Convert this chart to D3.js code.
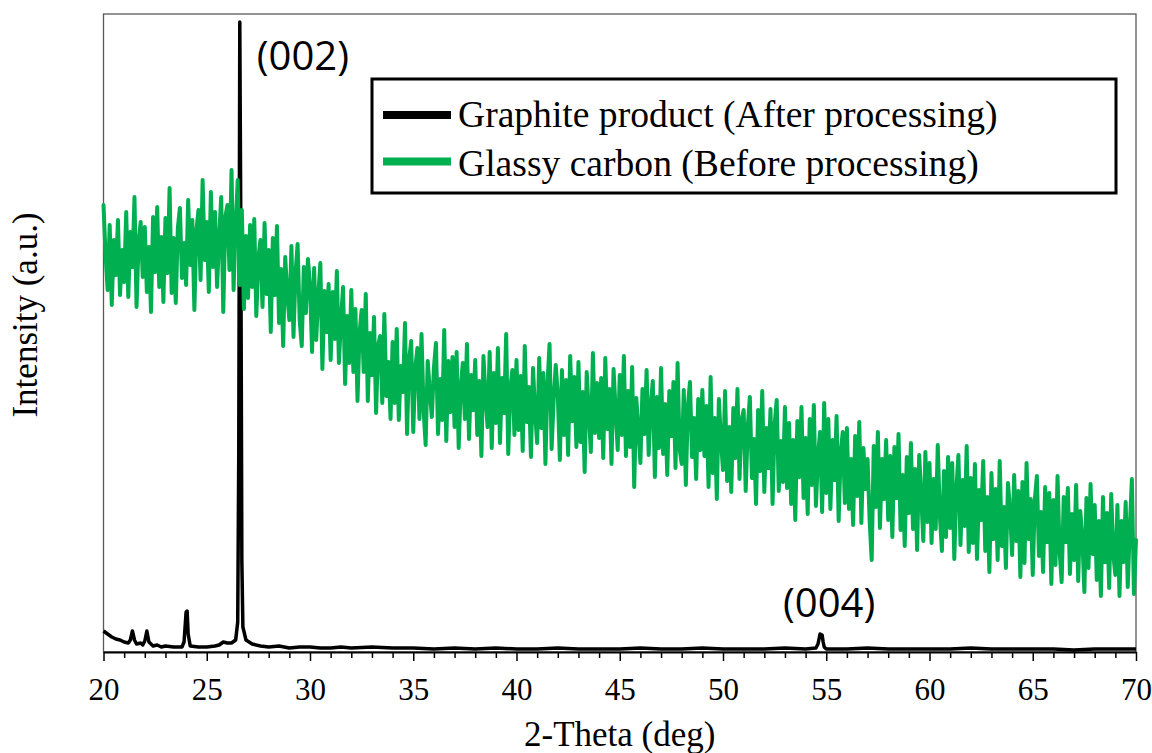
<!DOCTYPE html>
<html>
<head>
<meta charset="utf-8">
<script src="https://cdn.jsdelivr.net/npm/d3@7"></script>
<style>
  body { margin: 0; background: #fff; }
  svg { display: block; }
  .serif { font-family: "Liberation Serif", "Times New Roman", serif; fill: #000; }
  .sans { font-family: "Open Sans", "Noto Sans", sans-serif; fill: #000; }
</style>
</head>
<body>
<div id="chart"></div>
<script>
// XRD scan of the glassy carbon: 20..70 deg, 0.1 deg step, intensity in a.u.
const scanStart = 20;
const scanStep = 0.1;
const glassyCounts = [
  447, 397, 362, 427, 347, 412, 377, 432, 357, 402,
  370, 440, 355, 420, 385, 455, 345, 410, 430, 375,
  425, 360, 405, 340, 435, 380, 445, 365, 415, 350,
  434, 379, 464, 359, 414, 349, 424, 444, 374, 409,
  367, 452, 387, 432, 342, 422, 442, 372, 472, 392,
  430, 360, 460, 385, 440, 365, 415, 455, 340, 435,
  447, 382, 482, 362, 427, 472, 367, 442, 343, 416,
  354, 427, 365, 433, 336, 394, 412, 345, 429, 358,
  402, 320, 414, 357, 426, 329, 383, 306, 395, 358,
  332, 406, 315, 379, 408, 332, 306, 385, 339, 393,
  367, 300, 384, 312, 356, 389, 283, 361, 320, 368,
  292, 360, 313, 381, 289, 332, 365, 268, 336, 289,
  362, 280, 343, 251, 319, 342, 280, 358, 251, 319,
  277, 335, 239, 307, 316, 249, 338, 256, 290, 233,
  310, 249, 323, 232, 286, 260, 329, 218, 292, 311,
  220, 284, 304, 233, 318, 242, 207, 291, 261, 235,
  284, 309, 218, 273, 232, 322, 211, 291, 240, 295,
  225, 300, 204, 264, 289, 233, 308, 213, 277, 242,
  292, 217, 271, 196, 296, 255, 225, 300, 204, 279,
  229, 304, 209, 274, 239, 318, 198, 263, 282, 217,
  292, 222, 276, 201, 306, 230, 265, 195, 284, 239,
  209, 294, 224, 279, 188, 268, 308, 203, 252, 287,
  257, 192, 282, 217, 272, 197, 296, 231, 275, 205,
  290, 210, 260, 180, 280, 240, 200, 299, 219, 269,
  214, 274, 194, 294, 223, 263, 188, 283, 242, 202,
  277, 217, 296, 196, 261, 205, 285, 165, 254, 224,
  189, 263, 218, 282, 197, 246, 271, 175, 255, 204,
  284, 198, 248, 177, 261, 216, 270, 184, 289, 203,
  188, 262, 167, 246, 270, 195, 234, 173, 253, 202,
  262, 196, 246, 165, 275, 179, 234, 153, 253, 212,
  182, 261, 171, 225, 160, 244, 194, 263, 173, 232,
  242, 161, 225, 255, 174, 213, 148, 242, 181, 261,
  160, 224, 184, 243, 148, 227, 252, 161, 211, 170,
  245, 164, 229, 148, 212, 132, 231, 175, 245, 154,
  214, 138, 233, 167, 247, 146, 196, 220, 140, 249,
  159, 233, 143, 212, 172, 236, 131, 200, 220, 149,
  224, 143, 193, 127, 216, 156, 230, 129, 204, 163,
  193, 132,  92, 206, 145, 220, 124, 193, 153, 212,
  132, 196, 115, 205, 154, 218, 122, 177, 106, 195,
  139, 209, 123, 183, 102, 197, 156, 111, 200, 130,
  189, 109, 173, 123, 207, 137, 101, 181, 115, 195,
  124, 189,  93, 163, 197, 107, 172, 126, 206, 100,
  174, 109, 188,  93, 162, 132, 191, 101, 155,  80,
  179, 113, 163,  92, 191, 106, 145,  84, 169, 143,
   97, 177, 111, 161,  75, 170,  89, 189, 113, 153,
   77, 152, 176,  96, 140,  80, 165, 110, 159,  68,
  152,  87, 176, 101,  70, 155, 110, 164,  78, 138,
   92, 167,  71, 141, 115,  60, 154,  84, 168,  98,
  147,  72, 131,  56, 155,  90, 139,  64, 158,  98,
   77, 147,  56, 131,  90, 150,  65, 124, 173,  58,
  112
];

// graphite product (after processing)
const graphiteTheta = [
  20.0, 20.2, 20.4, 20.6, 20.8, 21.0, 21.2, 21.3, 21.4, 21.5, 21.6, 21.8, 21.9,
  22.0, 22.1, 22.2, 22.4, 22.6, 22.8, 23.0, 23.4, 23.8, 23.9, 24.0, 24.05, 24.1,
  24.2, 24.6, 25.0, 25.4, 25.6, 25.8, 26.0, 26.2, 26.4, 26.5, 26.55, 26.6, 26.65,
  26.7, 26.75, 26.9, 27.2, 27.6, 28.0, 28.5, 29.0, 29.5, 30.0, 30.5, 31.0, 31.5,
  32.0, 33.0, 34.0, 35.0, 36.0, 37.0, 38.0, 39.0, 40.0, 41.0, 42.0, 43.0, 44.0,
  45.0, 46.0, 47.0, 48.0, 49.0, 50.0, 51.0, 52.0, 53.0, 54.0, 54.5, 54.6, 54.7,
  54.8, 54.85, 54.9, 55.0, 56.0, 57.0, 58.0, 59.0, 60.0, 61.0, 62.0, 63.0, 64.0,
  65.0, 66.0, 67.0, 68.0, 69.0, 70.0
];
const graphiteCounts = [
  21, 18, 15, 13, 12, 10, 9, 12, 21, 12, 8, 9, 7,
  11, 21, 10, 6, 7, 5, 6, 5, 5, 10, 40, 41, 18,
  6, 5, 5, 6, 7, 10, 9, 9, 12, 30, 200, 630, 420,
  90, 25, 12, 8, 6, 5, 6, 4, 5, 5, 4, 4, 5,
  4, 5, 4, 4, 3, 4, 3, 4, 3, 3, 4, 3, 3,
  3, 4, 3, 3, 4, 3, 3, 3, 4, 3, 4, 8, 18,
  17, 10, 5, 3, 3, 4, 3, 3, 3, 3, 4, 3, 3,
  3, 3, 2, 3, 3, 3
];

const xTicks = [20, 25, 30, 35, 40, 45, 50, 55, 60, 65, 70];
const seriesNames = ["Graphite product (After processing)", "Glassy carbon (Before processing)"];
const seriesColors = ["#000000", "#00B050"];
const peakNames = ["(002)", "(004)"];
const peakTheta = [26.6, 54.75];

const width = 1152, height = 753;

const svg = d3.select("#chart").append("svg")
  .attr("width", width)
  .attr("height", height);

const x = d3.scaleLinear().domain([20, 70]).range([103.5, 1136]);
const y = d3.scaleLinear().domain([0, 638]).range([652, 14]);

// plot frame
svg.append("rect")
  .attr("x", x(20)).attr("y", y(638))
  .attr("width", x(70) - x(20)).attr("height", y(0) - y(638))
  .attr("fill", "none")
  .attr("stroke", "#595959")
  .attr("stroke-width", 1.3);

const line = d3.line()
  .x(d => x(d[0]))
  .y(d => y(d[1]));

const graphite = graphiteTheta.map((t, i) => [t, graphiteCounts[i]]);
const glassy = glassyCounts.map((v, i) => [scanStart + i * scanStep, v]);

svg.append("path")
  .datum(graphite)
  .attr("d", line)
  .attr("fill", "none")
  .attr("stroke", seriesColors[0])
  .attr("stroke-width", 3.5)
  .attr("stroke-linejoin", "round");

svg.append("path")
  .datum(glassy)
  .attr("d", line)
  .attr("fill", "none")
  .attr("stroke", seriesColors[1])
  .attr("stroke-width", 4)
  .attr("stroke-linejoin", "round")
  .attr("stroke-linecap", "round");

// minor ticks
svg.append("g")
  .attr("transform", "translate(0," + y(0) + ")")
  .call(d3.axisBottom(x)
    .tickValues(d3.range(20, 71, 1).filter(d => d % 5 !== 0))
    .tickSize(6).tickSizeOuter(0).tickFormat(""))
  .call(g => g.select(".domain").remove())
  .selectAll("line").attr("stroke", "#000").attr("stroke-width", 1.5);

// major ticks + labels
const xAxis = svg.append("g")
  .attr("transform", "translate(0," + y(0) + ")")
  .call(d3.axisBottom(x)
    .tickValues(xTicks)
    .tickSize(9).tickSizeOuter(0).tickPadding(17)
    .tickFormat(d3.format("d")));
xAxis.select(".domain").attr("stroke", "#000").attr("stroke-width", 2);
xAxis.selectAll(".tick line").attr("stroke", "#000").attr("stroke-width", 1.5);
xAxis.selectAll(".tick text")
  .attr("class", "serif")
  .style("font-size", "31px")
  .attr("fill", "#000");

// axis titles
svg.append("text")
  .attr("class", "serif")
  .attr("x", (x(20) + x(70)) / 2)
  .attr("y", 746)
  .attr("text-anchor", "middle")
  .style("font-size", "35px")
  .text("2-Theta (deg)");

svg.append("text")
  .attr("class", "serif")
  .attr("transform", "translate(37," + ((y(0) + y(638)) / 2 - 18) + ") rotate(-90)")
  .attr("text-anchor", "middle")
  .style("font-size", "35px")
  .text("Intensity (a.u.)");

// legend
const legend = svg.append("g").attr("transform", "translate(372,79)");
legend.append("rect")
  .attr("width", 744).attr("height", 114)
  .attr("fill", "#fff")
  .attr("stroke", "#000")
  .attr("stroke-width", 3);

seriesNames.forEach((name, i) => {
  const row = legend.append("g").attr("transform", "translate(0," + (48 + i * 49) + ")");
  row.append("line")
    .attr("x1", 11).attr("x2", 79)
    .attr("y1", -12 - i * 2.5).attr("y2", -12 - i * 2.5)
    .attr("stroke", seriesColors[i])
    .attr("stroke-width", 8);
  row.append("text")
    .attr("class", "serif")
    .attr("x", 86)
    .attr("y", 0)
    .style("font-size", "37.6px")
    .text(name);
});

// peak labels
svg.append("text")
  .attr("class", "sans")
  .attr("x", x(peakTheta[0]) + 17)
  .attr("y", 70)
  .style("font-size", "40px")
  .text(peakNames[0]);

svg.append("text")
  .attr("class", "sans")
  .attr("x", x(peakTheta[1]) + 8)
  .attr("y", 617)
  .attr("text-anchor", "middle")
  .style("font-size", "40px")
  .text(peakNames[1]);
</script>
</body>
</html>
